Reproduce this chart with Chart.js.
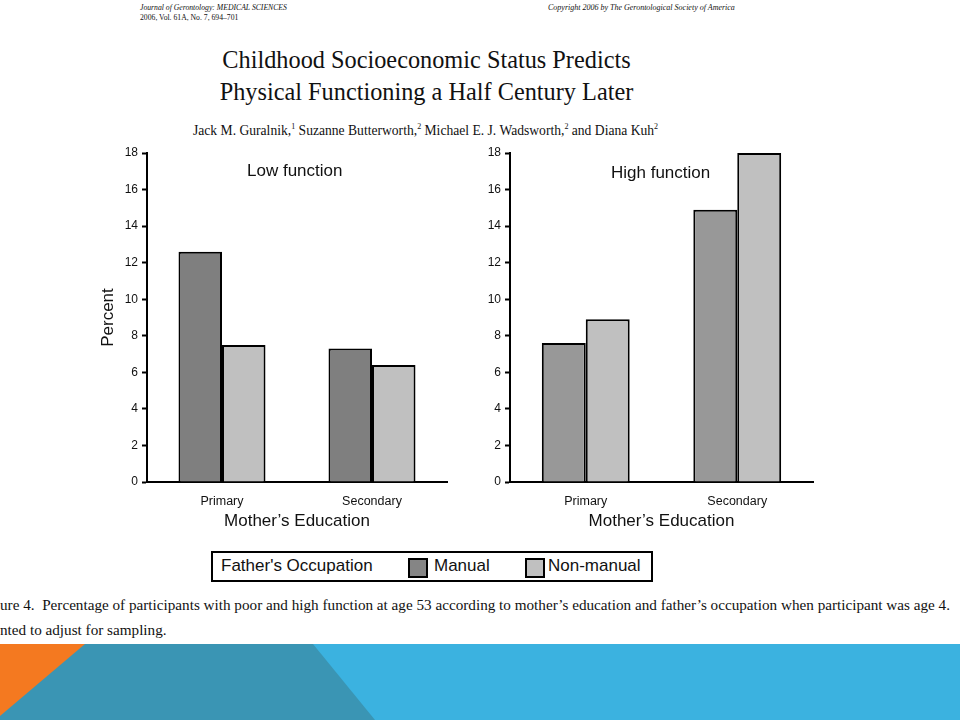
<!DOCTYPE html>
<html>
<head>
<meta charset="utf-8">
<script src="https://cdn.jsdelivr.net/npm/chart.js"></script>
<style>
  body { margin: 0; width: 960px; height: 720px; background: #fff; position: relative; overflow: hidden; }
  .t { position: absolute; white-space: nowrap; color: #111; }
  .serif { font-family: "Liberation Serif", "Times New Roman", serif; }
  .sans { font-family: "Liberation Sans", Arial, sans-serif; }
  canvas { position: absolute; }
  .band { position: absolute; left: 0; top: 644px; width: 960px; height: 76px; }
  sup { font-size: 8px; }
</style>
</head>
<body>
<div class="t serif" style="left:140px;top:3px;font-size:7.7px;font-style:italic">Journal of Gerontology: MEDICAL SCIENCES</div>
<div class="t serif" style="left:140px;top:13px;font-size:7.7px">2006, Vol. 61A, No. 7, 694–701</div>
<div class="t serif" style="left:548px;top:3px;font-size:8px;font-style:italic">Copyright 2006 by The Gerontological Society of America</div>

<div class="t serif" style="left:0;width:853px;text-align:center;top:46px;font-size:24.3px">Childhood Socioeconomic Status Predicts</div>
<div class="t serif" style="left:0;width:853px;text-align:center;top:78px;font-size:24.3px">Physical Functioning a Half Century Later</div>
<div class="t serif" style="left:193px;top:122px;font-size:13.6px">Jack M. Guralnik,<sup>1</sup> Suzanne Butterworth,<sup>2</sup> Michael E. J. Wadsworth,<sup>2</sup> and Diana Kuh<sup>2</sup></div>

<canvas id="lowChart"></canvas>
<canvas id="highChart"></canvas>

<div class="t sans" style="left:247px;top:161px;font-size:17px">Low function</div>
<div class="t sans" style="left:611px;top:163px;font-size:17px">High function</div>

<div style="position:absolute;left:211px;top:551px;width:438px;height:27px;border:2px solid #000;"></div>
<div class="t sans" style="left:221px;top:556px;font-size:17px">Father's Occupation</div>
<div style="position:absolute;left:408px;top:558px;width:16px;height:16px;border:2px solid #000;background:#858585"></div>
<div class="t sans" style="left:434px;top:556px;font-size:17px">Manual</div>
<div style="position:absolute;left:525px;top:558px;width:16px;height:16px;border:2px solid #000;background:#c0c0c0"></div>
<div class="t sans" style="left:548px;top:556px;font-size:17px">Non-manual</div>

<div id="cap1" class="t serif" style="left:0;top:596px;font-size:15.5px;transform-origin:0 0">ure 4.&nbsp; Percentage of participants with poor and high function at age 53 according to mother’s education and father’s occupation when participant was age 4.</div>
<div id="cap2" class="t serif" style="left:0;top:621px;font-size:15.5px;transform-origin:0 0">nted to adjust for sampling.</div>

<div class="band" style="background:#3bb2e0"></div>
<div class="band" style="background:#3a95b4;clip-path:polygon(0 0,313px 0,375px 76px,0 76px)"></div>
<div class="band" style="background:#f47920;clip-path:polygon(0 0,85px 0,0 72px)"></div>

<script>
// données
const categories = ['Primary', 'Secondary'];
const lowManual = [12.6, 7.3];
const lowNonManual = [7.5, 6.4];
const highManual = [7.6, 14.9];
const highNonManual = [8.9, 18.0];
const yMax = 18;
const yStep = 2;

// caption condensée
const cap = document.getElementById('cap1');
const k = 950 / cap.scrollWidth;
cap.style.transform = `scaleX(${k})`;
document.getElementById('cap2').style.transform = `scaleX(${k})`;

const FONT = 'Liberation Sans';

function makeChart(id, box, manual, nonManual, manualColor, showTitle) {
  const canvas = document.getElementById(id);
  canvas.style.left = box.left + 'px';
  canvas.style.top = box.top + 'px';
  canvas.style.width = box.width + 'px';
  canvas.style.height = box.height + 'px';

  return new Chart(canvas, {
    type: 'bar',
    data: {
      labels: categories,
      datasets: [
        { label: 'Manual', data: manual, backgroundColor: manualColor, borderColor: '#000', borderWidth: 2 },
        { label: 'Non-manual', data: nonManual, backgroundColor: '#c0c0c0', borderColor: '#000', borderWidth: 2 }
      ]
    },
    options: {
      responsive: false,
      animation: false,
      devicePixelRatio: 1,
      layout: { padding: { top: 13, right: box.padRight, left: 0, bottom: 0 } },
      plugins: { legend: { display: false }, tooltip: { enabled: false } },
      datasets: { bar: { categoryPercentage: 0.58, barPercentage: 1.0 } },
      scales: {
        x: {
          grid: { display: false, drawTicks: false },
          border: { display: true, color: '#000', width: 2 },
          ticks: { color: '#111', font: { family: FONT, size: 12.5 }, padding: 12 },
          title: { display: true, text: 'Mother’s Education', color: '#111', font: { family: FONT, size: 17 }, padding: { top: 0, bottom: 0 } },
          afterFit: s => { s.height = 50; }
        },
        y: {
          min: 0,
          max: yMax,
          ticks: { stepSize: yStep, color: '#111', font: { family: FONT, size: 12 }, padding: 4 },
          grid: { drawOnChartArea: false, drawTicks: true, tickLength: 5, color: '#000', tickWidth: 2 },
          border: { display: true, color: '#000', width: 2 },
          title: { display: showTitle, text: 'Percent', color: '#111', font: { family: FONT, size: 17 }, padding: { top: 8, bottom: 0 } },
          afterFit: s => { s.width = box.axisWidth; }
        }
      }
    }
  });
}

makeChart('lowChart', { left: 90, top: 140, width: 370, height: 392, axisWidth: 57, padRight: 13 },
  lowManual, lowNonManual, '#7f7f7f', true);
makeChart('highChart', { left: 460, top: 140, width: 363, height: 392, axisWidth: 50, padRight: 10 },
  highManual, highNonManual, '#989898', false);
</script>
</body>
</html>
